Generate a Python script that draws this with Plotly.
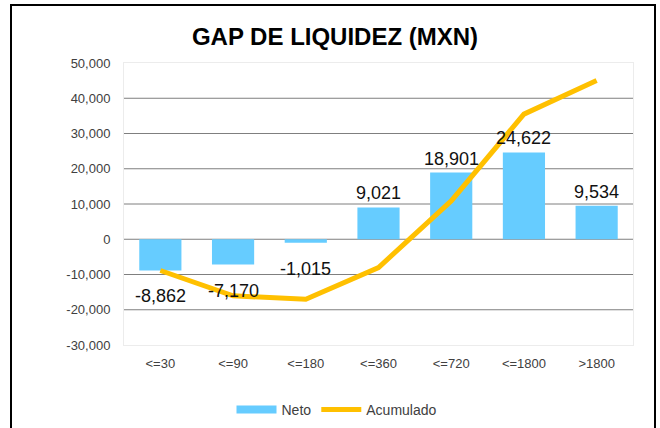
import plotly.graph_objects as go

categories = ["<=30", "<=90", "<=180", "<=360", "<=720", "<=1800", ">1800"]
neto = [-8862, -7170, -1015, 9021, 18901, 24622, 9534]
acumulado = [-8862, -16032, -17047, -8026, 10875, 35497, 45031]
y_ticks = [-30000, -20000, -10000, 0, 10000, 20000, 30000, 40000, 50000]
grid_values = [-20000, -10000, 0, 10000, 20000, 30000, 40000]

W, H = 660, 428
ML, MR, MT, MB = 124, 27, 63, 83
PW, PH = W - ML - MR, H - MT - MB

FONT = "Liberation Sans, Arial, sans-serif"
BAR_COLOR = "#66CCFF"
LINE_COLOR = "#FFC000"

fig = go.Figure()
fig.add_trace(go.Bar(
    x=categories, y=neto, name="Neto", showlegend=False,
    marker=dict(color=BAR_COLOR, line=dict(width=0)),
))
# legend swatch for bars (wide rectangle like the reference)
fig.add_trace(go.Scatter(
    x=[None], y=[None], name="Neto", mode="lines",
    line=dict(color=BAR_COLOR, width=8),
))
fig.add_trace(go.Scatter(
    x=categories, y=acumulado, name="Acumulado", mode="lines",
    line=dict(color=LINE_COLOR, width=5),
))

annotations = []
for c, v in zip(categories, neto):
    annotations.append(dict(
        x=c, y=v, xref="x", yref="y", text=f"{v:,}", showarrow=False,
        yanchor="middle", yshift=14 if v >= 0 else -26,
        font=dict(family=FONT, size=18, color="#111111"),
    ))

shapes = []
for g in grid_values:
    shapes.append(dict(type="line", xref="paper", yref="y", x0=0, x1=1, y0=g, y1=g,
                       line=dict(color="#7f7f7f", width=1), layer="below"))
# outer chart border
shapes.append(dict(type="rect", xref="paper", yref="paper",
                   x0=(11 - ML) / PW, x1=(655 - ML) / PW,
                   y0=(H - MB - 440) / PH, y1=(H - MB - 5) / PH,
                   line=dict(color="#000000", width=2), fillcolor="rgba(0,0,0,0)", layer="above"))

fig.update_layout(
    width=W, height=H,
    margin=dict(l=ML, r=MR, t=MT, b=MB, autoexpand=False),
    paper_bgcolor="white", plot_bgcolor="white",
    title=dict(text="<b>GAP DE LIQUIDEZ (MXN)</b>", x=335 / W, xanchor="center",
               y=1 - 37 / H, yanchor="middle",
               font=dict(family=FONT, size=24, color="#000000")),
    bargap=0.42,
    showlegend=True,
    legend=dict(orientation="h", x=(337 - ML) / PW, xanchor="center",
                y=-(410 - (H - MB)) / PH, yanchor="middle",
                font=dict(family=FONT, size=14, color="#404040"),
                itemwidth=40, tracegroupgap=0,
                bgcolor="rgba(0,0,0,0)"),
    annotations=annotations,
    shapes=shapes,
    xaxis=dict(showgrid=False, zeroline=False, showline=True, mirror=True,
               linecolor="#ececec", linewidth=1, ticks="", ticklabelstandoff=6,
               tickfont=dict(family=FONT, size=13, color="#404040")),
    yaxis=dict(range=[-30000, 50000], tickvals=y_ticks,
               ticktext=[f"{v:,}" for v in y_ticks],
               showgrid=False, zeroline=False, showline=True, mirror=True,
               linecolor="#ececec", linewidth=1, ticks="", ticklen=0,
               ticklabelstandoff=10,
               tickfont=dict(family=FONT, size=13, color="#404040")),
)

fig.write_html("out.html",
               config={"displayModeBar": False},
               post_script="document.body.style.margin='0';document.body.style.overflow='hidden';")
